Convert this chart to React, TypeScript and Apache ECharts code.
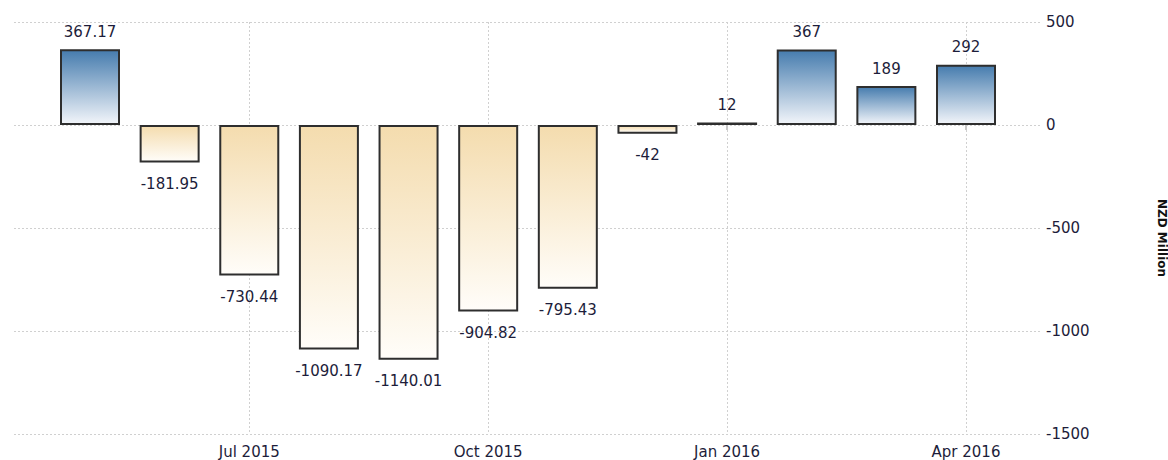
import React, { useEffect, useRef } from "react";
import * as echarts from "echarts";

const categories = [
  "May 2015", "Jun 2015", "Jul 2015", "Aug 2015", "Sep 2015", "Oct 2015",
  "Nov 2015", "Dec 2015", "Jan 2016", "Feb 2016", "Mar 2016", "Apr 2016",
];
const values = [367.17, -181.95, -730.44, -1090.17, -1140.01, -904.82, -795.43, -42, 12, 367, 189, 292];
const yTicks = [-1500, -1000, -500, 0, 500];
const axisName = "NZD Million";

const FONT = "DejaVu Sans";
const TEXT_COLOR = "#1d1d3a";

export default function App() {
  const ref = useRef<HTMLDivElement>(null);
  useEffect(() => {
    if (!ref.current) return;
    const chart = echarts.init(ref.current, null, { renderer: "svg" });
    const posGrad = new echarts.graphic.LinearGradient(0, 0, 0, 1, [
      { offset: 0, color: "#467cae" },
      { offset: 1, color: "#f2f5fa" },
    ]);
    const negGrad = new echarts.graphic.LinearGradient(0, 0, 0, 1, [
      { offset: 0, color: "#f4dcae" },
      { offset: 1, color: "#fffdf9" },
    ]);
    const yMin = yTicks[0];
    const yMax = yTicks[yTicks.length - 1];
    const every3 = (i: number) => i % 3 === 2;
    chart.setOption({
      animation: false,
      grid: [
        { left: 14, right: 128, top: 22, bottom: 26 },
        { left: 90, right: 202, top: 22, bottom: 26 },
      ],
      xAxis: [
        { gridIndex: 0, type: "value", min: 0, max: 1, show: false },
        {
          gridIndex: 1,
          type: "category",
          data: categories,
          boundaryGap: false,
          axisLine: { show: false },
          axisTick: { show: true, interval: every3, length: 5, lineStyle: { color: "#c8c8c8", width: 2 } },
          axisLabel: { interval: every3, color: TEXT_COLOR, fontFamily: FONT, fontSize: 15, margin: 10 },
          splitLine: { show: true, interval: every3, lineStyle: { type: [2, 2], color: "#d0d0d0", width: 1 } },
        },
      ],
      yAxis: [
        {
          gridIndex: 0,
          type: "value",
          position: "right",
          min: yMin,
          max: yMax,
          interval: 500,
          axisLine: { show: false },
          axisTick: { show: false },
          axisLabel: {
            color: TEXT_COLOR,
            fontFamily: FONT,
            fontSize: 15,
            margin: 6,
            formatter: (v: number) => String(v),
          },
          splitLine: { show: true, lineStyle: { type: [2, 2], color: "#d0d0d0", width: 1 } },
        },
        { gridIndex: 1, type: "value", min: yMin, max: yMax, show: false },
      ],
      series: [
        {
          type: "bar",
          xAxisIndex: 1,
          yAxisIndex: 1,
          barWidth: 60,
          data: values.map((v) => ({
            value: v,
            itemStyle: { color: v >= 0 ? posGrad : negGrad },
            label: {
              position: v >= 0 ? "top" : "bottom",
              distance: v >= 0 ? 10 : 14,
            },
          })),
          itemStyle: { borderColor: "#2e2e2e", borderWidth: 2 },
          label: {
            show: true,
            color: TEXT_COLOR,
            fontFamily: FONT,
            fontSize: 15,
            formatter: (p: any) => String(p.value),
          },
        },
      ],
      graphic: [
        {
          type: "text",
          x: 1162,
          y: 238,
          rotation: -Math.PI / 2,
          style: {
            text: axisName,
            fill: "#111",
            font: `bold 12px ${FONT}`,
            align: "center",
            verticalAlign: "middle",
          },
        },
      ],
    });
    return () => chart.dispose();
  }, []);
  return <div ref={ref} style={{ width: 1168, height: 460, position: "absolute", left: 0, top: 0 }} />;
}
